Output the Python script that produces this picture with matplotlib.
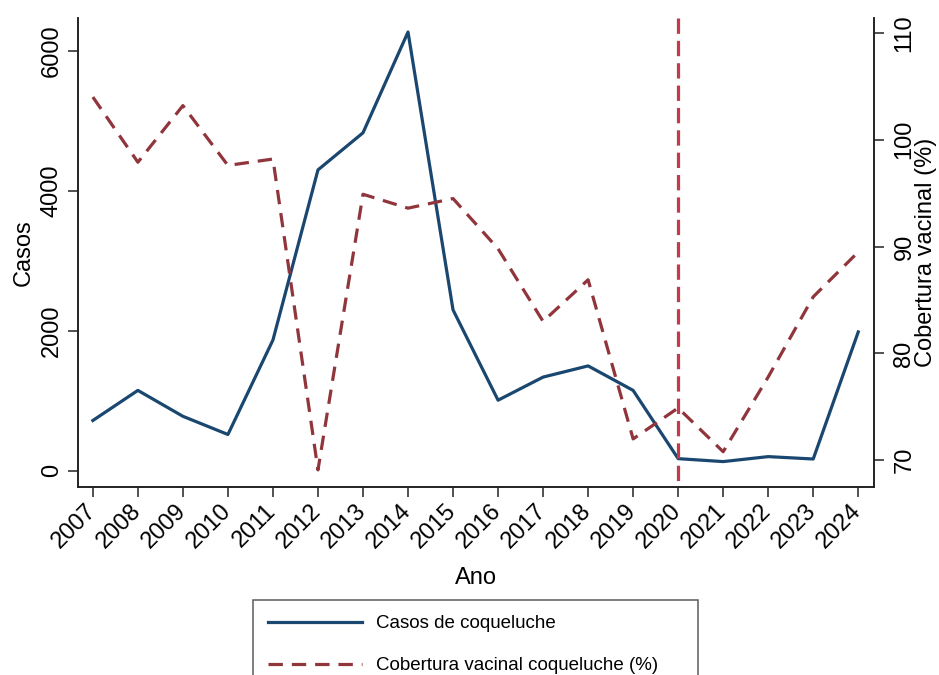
import matplotlib.pyplot as plt

plt.rcParams['font.family'] = ['Liberation Sans', 'DejaVu Sans']

anos = [2007, 2008, 2009, 2010, 2011, 2012, 2013, 2014, 2015,
        2016, 2017, 2018, 2019, 2020, 2021, 2022, 2023, 2024]
casos = [720, 1150, 780, 520, 1870, 4300, 4830, 6270, 2300,
         1010, 1340, 1500, 1150, 175, 133, 204, 170, 1985]
cobertura = [104.0, 97.9, 103.2, 97.6, 98.2, 69.1, 94.9, 93.6, 94.5,
             89.8, 83.0, 86.9, 72.0, 74.9, 70.8, 77.8, 85.3, 89.5]
ano_corte = 2020

azul = "#1a476f"
vinho = "#90353b"
vermelho = "#c23b4a"

fig = plt.figure(figsize=(9.39, 6.75), dpi=100)
ax = fig.add_axes([78 / 939, 1 - 487 / 675, (874 - 78) / 939, (487 - 18) / 675])
ax2 = ax.twinx()

l1, = ax.plot(anos, casos, color=azul, lw=2.3, label="Casos de coqueluche")
l2, = ax2.plot(anos, cobertura, color=vinho, lw=2.3, dashes=(4.5, 2.8),
               label="Cobertura vacinal coqueluche (%)")
# drawn top to bottom so the dash pattern starts at the top edge
ax2.axvline(ano_corte, ymin=1, ymax=0, color=vermelho, lw=2.3, dashes=(4.8, 2.2))

ax.set_xlim(2006.67, 2024.35)
ax.set_ylim(-230, 6470)
ax2.set_ylim(67.5, 111.4)

ax.set_xticks(anos)
ax.set_yticks([0, 2000, 4000, 6000])
ax2.set_yticks([70, 80, 90, 100, 110])

for a in (ax, ax2):
    a.spines['top'].set_visible(False)
    for s in a.spines.values():
        s.set_linewidth(1.2)
        s.set_color("#222222")
    a.tick_params(length=7, width=1.1, labelsize=17, color="#222222")
ax.tick_params(axis='y', labelrotation=90, pad=4)
ax2.tick_params(axis='y', labelrotation=90, pad=7)
ax.tick_params(axis='x', labelrotation=45, pad=8)
for lbl in ax.get_xticklabels():
    lbl.set_ha('right')
    lbl.set_va('center')
    lbl.set_rotation_mode('anchor')
for lbl in ax.get_yticklabels() + ax2.get_yticklabels():
    lbl.set_va('center')

ax.set_xlabel("Ano", fontsize=17, labelpad=10)
ax.set_ylabel("Casos", fontsize=17, labelpad=4)
ax2.set_ylabel("Cobertura vacinal (%)", fontsize=17, labelpad=0)

leg_x0, leg_x1, leg_top = 253 / 939, 698 / 939, 1 - 600 / 675
leg = fig.legend([l1, l2], [l1.get_label(), l2.get_label()],
                 loc='upper left', mode='expand',
                 bbox_to_anchor=(leg_x0, leg_top - 0.2, leg_x1 - leg_x0, 0.2),
                 fontsize=13.5, frameon=True, fancybox=False,
                 edgecolor="#333333", handlelength=5, handletextpad=0.75,
                 labelspacing=1.33, borderpad=0.8, borderaxespad=0)
leg.get_frame().set_linewidth(1.1)

fig.savefig("out.png", dpi=100)
